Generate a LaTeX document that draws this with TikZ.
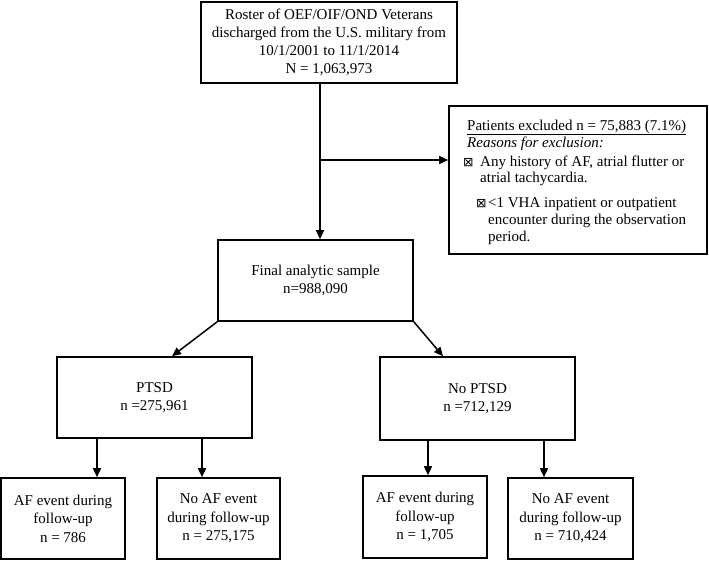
\documentclass[tikz,border=0pt]{standalone}
\usepackage{fontspec}
\setmainfont{Liberation Serif}
\newfontfamily\symfont{DejaVu Sans}
\usetikzlibrary{arrows.meta}
\begin{document}
\begin{tikzpicture}[x=1pt,y=-1pt,
  box/.style={draw,line width=1.6pt,align=center,inner sep=0pt,font=\fontsize{15}{17.8}\selectfont},
  arr/.style={line width=1.5pt,-{Triangle[length=9pt,width=8pt]}},
  ln/.style={line width=1.5pt},
  tx/.style={anchor=base west,inner sep=0pt,font=\fontsize{15}{17.8}\selectfont}]
\useasboundingbox (0,0) rectangle (709,560);
\node[box,minimum width=256pt,minimum height=81pt] (top) at (329,42.5)
  {Roster of OEF/OIF/OND Veterans\\discharged from the U.S. military from\\10/1/2001 to 11/1/2014\\N = 1,063,973};
\node[box,minimum width=258pt,minimum height=148pt] (excl) at (578,180) {};
\node[tx] (e1) at (467,130) {\underline{Patients excluded n = 75,883 (7.1\%)}};
\node[tx] (e2) at (467,147) {\itshape Reasons for exclusion:};
\node[tx] (b1) at (463,166) {\symfont\fontsize{12.5}{14}\selectfont ⊠};
\node[tx] (e3) at (480,166) {Any history of AF, atrial flutter or};
\node[tx] (e4) at (480,182.5) {atrial tachycardia.};
\node[tx] (b2) at (476,207) {\symfont\fontsize{12.5}{14}\selectfont ⊠};
\node[tx] (e5) at (488,207) {<1 VHA inpatient or outpatient};
\node[tx] (e6) at (488,224) {encounter during the observation};
\node[tx] (e7) at (488,241) {period.};
\node[box,minimum width=195pt,minimum height=81pt] (final) at (315.5,280.5)
  {Final analytic sample\\n=988,090};
\node[box,minimum width=195pt,minimum height=81pt] (ptsd) at (154.5,397.5)
  {PTSD\\n =275,961};
\node[box,minimum width=195pt,minimum height=83pt] (nptsd) at (477.5,398.5)
  {No PTSD\\n =712,129};
\begin{scope}[box/.append style={font=\fontsize{15}{18.5}\selectfont}]
\node[box,minimum width=124pt,minimum height=81pt] (af1) at (63,518.5)
  {AF event during\\follow-up\\n = 786};
\node[box,minimum width=123pt,minimum height=81pt] (naf1) at (218.5,518.5)
  {No AF event\\during follow-up\\n = 275,175};
\node[box,minimum width=124pt,minimum height=82pt] (af2) at (425,517)
  {AF event during\\follow-up\\n = 1,705};
\node[box,minimum width=125pt,minimum height=81pt] (naf2) at (570.5,518.5)
  {No AF event\\during follow-up\\n = 710,424};
\end{scope}
\coordinate (j) at (320,160);
\coordinate (dl) at (172,0);
\coordinate (dr) at (443,0);
\coordinate (p1) at (97,0);
\coordinate (p2) at (202,0);
\coordinate (q1) at (428,0);
\coordinate (q2) at (544,0);
\draw[ln] (top.south -| j) -- (j);
\draw[arr] (j) -- (excl.west |- j);
\draw[arr] (j) -- (final.north -| j);
\draw[arr] (final.south west) -- (ptsd.north -| dl);
\draw[arr] (final.south east) -- (nptsd.north -| dr);
\draw[arr] (ptsd.south -| p1) -- (af1.north -| p1);
\draw[arr] (ptsd.south -| p2) -- (naf1.north -| p2);
\draw[arr] (nptsd.south -| q1) -- (af2.north -| q1);
\draw[arr] (nptsd.south -| q2) -- (naf2.north -| q2);
\end{tikzpicture}
\end{document}
